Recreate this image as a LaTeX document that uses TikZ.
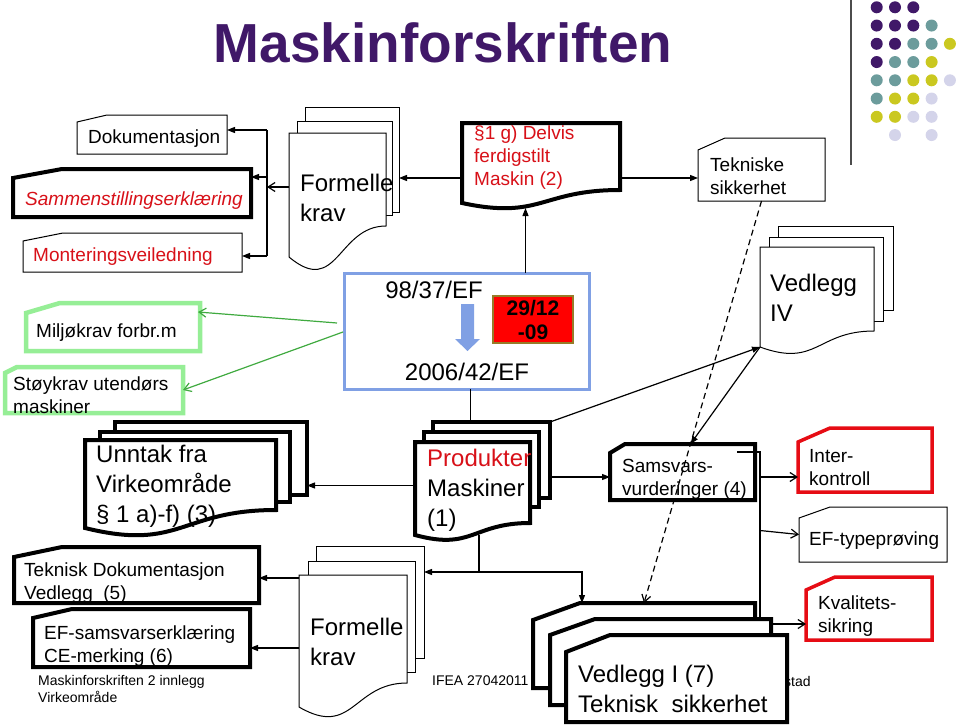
\documentclass[tikz,border=0pt]{standalone}
\usepackage{fontspec}
\setmainfont{Liberation Sans}
\usetikzlibrary{arrows.meta,calc}

\definecolor{titlepurple}{RGB}{64,24,104}
\definecolor{dotP}{RGB}{64,24,104}
\definecolor{dotT}{RGB}{108,156,156}
\definecolor{dotY}{RGB}{202,200,32}
\definecolor{dotL}{RGB}{212,212,234}
\definecolor{textred}{RGB}{216,16,24}
\definecolor{boxred}{RGB}{230,12,20}
\definecolor{lgreen}{RGB}{150,238,150}
\definecolor{linegreen}{RGB}{64,170,64}
\definecolor{dirblue}{RGB}{128,160,228}
\definecolor{dateborder}{RGB}{150,124,40}

\makeatletter
\newdimen\cardcx \newdimen\cardcy \newdimen\docrise
\newdimen\shxa \newdimen\shya \newdimen\shxb \newdimen\shyb
\newdimen\shxc \newdimen\shyc \newdimen\shyd
% card with the upper left corner cut off
\pgfdeclareshape{cutcard}{%
  \inheritsavedanchors[from=rectangle]%
  \inheritanchorborder[from=rectangle]%
  \inheritanchor[from=rectangle]{center}%
  \inheritanchor[from=rectangle]{north}%
  \inheritanchor[from=rectangle]{south}%
  \inheritanchor[from=rectangle]{east}%
  \inheritanchor[from=rectangle]{west}%
  \inheritanchor[from=rectangle]{north east}%
  \inheritanchor[from=rectangle]{north west}%
  \inheritanchor[from=rectangle]{south east}%
  \inheritanchor[from=rectangle]{south west}%
  \backgroundpath{%
    \southwest \shxa=\pgf@x \shya=\pgf@y
    \northeast \shxb=\pgf@x \shyb=\pgf@y
    \shxc=\shxa \advance\shxc by \cardcx
    \shyc=\shyb \advance\shyc by -\cardcy
    \pgfpathmoveto{\pgfqpoint{\shxa}{\shya}}%
    \pgfpathlineto{\pgfqpoint{\shxa}{\shyc}}%
    \pgfpathlineto{\pgfqpoint{\shxc}{\shyb}}%
    \pgfpathlineto{\pgfqpoint{\shxb}{\shyb}}%
    \pgfpathlineto{\pgfqpoint{\shxb}{\shya}}%
    \pgfpathclose
  }%
}
% document page with a wavy lower edge
\pgfdeclareshape{docpage}{%
  \inheritsavedanchors[from=rectangle]%
  \inheritanchorborder[from=rectangle]%
  \inheritanchor[from=rectangle]{center}%
  \inheritanchor[from=rectangle]{north}%
  \inheritanchor[from=rectangle]{south}%
  \inheritanchor[from=rectangle]{east}%
  \inheritanchor[from=rectangle]{west}%
  \inheritanchor[from=rectangle]{north east}%
  \inheritanchor[from=rectangle]{north west}%
  \inheritanchor[from=rectangle]{south east}%
  \inheritanchor[from=rectangle]{south west}%
  \backgroundpath{%
    \southwest \shxa=\pgf@x \shya=\pgf@y
    \northeast \shxb=\pgf@x \shyb=\pgf@y
    \shxc=.5\shxa \advance\shxc by .5\shxb
    \shyc=\shya \advance\shyc by \docrise
    \shyd=\shya \advance\shyd by -1.31\docrise
    \pgfpathmoveto{\pgfqpoint{\shxa}{\shya}}%
    \pgfpathlineto{\pgfqpoint{\shxa}{\shyb}}%
    \pgfpathlineto{\pgfqpoint{\shxb}{\shyb}}%
    \pgfpathlineto{\pgfqpoint{\shxb}{\shyc}}%
    \pgfpathcurveto{\pgfqpoint{\shxc}{\shyc}}{\pgfqpoint{\shxc}{\shyd}}{\pgfqpoint{\shxa}{\shya}}%
    \pgfpathclose
  }%
}
\makeatother

\tikzset{
  corner cut/.code 2 args={\pgfmathsetlength\cardcx{#1}\pgfmathsetlength\cardcy{#2}},
  wave rise/.code={\pgfmathsetlength\docrise{#1}},
  shapebase/.style={draw, fill=white, line width=1pt, inner sep=0pt, outer sep=0pt, anchor=north west},
  cardbox/.style={shapebase, shape=cutcard},
  docbox/.style={shapebase, shape=docpage},
  sheet/.style={shapebase, shape=rectangle},
  heavy/.style={line width=4pt},
  greenbox/.style={draw=lgreen, line width=4.5pt},
  redbox/.style={draw=boxred, line width=3.5pt},
  t14/.style={font=\fontsize{14}{17}\selectfont, align=left, inner sep=0pt, anchor=west},
  t19/.style={font=\fontsize{19}{23}\selectfont, align=left, inner sep=0pt, anchor=west},
  t24/.style={font=\fontsize{24}{30}\selectfont, align=left, inner sep=0pt, anchor=west},
  conn/.style={line width=1.2pt},
  arr/.style={conn, -{Triangle[length=8pt,width=6pt]}},
  openarr/.style={conn, -{Straight Barb[length=7pt,width=9pt]}},
  greenarr/.style={openarr, draw=linegreen},
  dashedarr/.style={openarr, dash pattern=on 6pt off 4pt}
}

\begin{document}
\begin{tikzpicture}[x=1pt,y=-1pt]
\useasboundingbox (0,0) rectangle (960,725);

% heading and corner dots
\node[inner sep=0pt, font=\fontsize{55}{60}\selectfont\bfseries, text=titlepurple] (title) at (443,43) {Maskinforskriften};
\draw[line width=1.5pt, black!70] (851,0) -- (851,165);
\foreach \i/\j/\col in {0/0/dotP,1/0/dotP,2/0/dotP,
    0/1/dotP,1/1/dotP,2/1/dotP,3/1/dotT,
    0/2/dotP,1/2/dotP,2/2/dotT,3/2/dotT,4/2/dotY,
    0/3/dotP,1/3/dotT,2/3/dotT,3/3/dotY,
    0/4/dotT,1/4/dotT,2/4/dotY,3/4/dotY,4/4/dotL,
    0/5/dotT,1/5/dotY,2/5/dotY,3/5/dotL,
    0/6/dotY,1/6/dotY,2/6/dotL,3/6/dotL,
    1/7/dotL,3/7/dotL}
  \fill[\col] ({876.7+18.3*\i},{7.3+18.25*\j}) circle (6pt);

% left column
\node[cardbox, corner cut={30}{7}, minimum width=150, minimum height=39] (dok) at (77,115) {};
\node[t19] (t-dok) at (88,139) {Dokumentasjon};
\node[cardbox, heavy, corner cut={49}{9}, minimum width=238, minimum height=48] (samm) at (13,169) {};
\node[t19, text=textred, font=\fontsize{19}{23}\selectfont\itshape] (t-samm) at (25,201) {Sammenstillingserklæring};
\node[cardbox, corner cut={40}{8}, minimum width=219, minimum height=39] (mont) at (23,233) {};
\node[t19, text=textred] (t-mont) at (33,257) {Monteringsveiledning};
\node[cardbox, greenbox, corner cut={34}{10}, minimum width=174, minimum height=48] (milj) at (26,303) {};
\node[t19] (t-milj) at (36,333) {Miljøkrav forbr.m};
\node[cardbox, greenbox, corner cut={12}{6}, minimum width=178, minimum height=46] (stoy) at (5,367) {};
\node[t19] (t-stoy) at (13,395) {Støykrav utendørs\\maskiner};

% formelle krav, top
\node[sheet, minimum width=94, minimum height=105] (fa3) at (305,107) {};
\node[sheet, minimum width=95, minimum height=94] (fa2) at (297,121) {};
\node[docbox, wave rise=31, minimum width=97, minimum height=124] (fa1) at (289,133) {};
\node[t24] (t-fa) at (300,198) {Formelle\\krav};

% delvis ferdigstilt maskin
\node[docbox, heavy, wave rise=13, minimum width=158, minimum height=80] (par) at (462,123) {};
\node[t19, text=textred] (t-par) at (474,158) {§1 g) Delvis\\ferdigstilt\\Maskin (2)};

\node[cardbox, corner cut={27}{12}, minimum width=127, minimum height=63] (tekn) at (698,138) {};
\node[t19] (t-tekn) at (710,176) {Tekniske\\sikkerhet};

% vedlegg IV
\node[sheet, minimum width=115, minimum height=84] (v3) at (778,226) {};
\node[sheet, minimum width=114, minimum height=84] (v2) at (769,237) {};
\node[docbox, wave rise=16, minimum width=114, minimum height=100] (v1) at (760,247) {};
\node[t24] (t-v) at (770,298) {Vedlegg\\IV};

% directive
\node[sheet, draw=dirblue, line width=3pt, minimum width=245, minimum height=116] (dir) at (344,273) {};
\node[t24, anchor=center] (t-98) at (434,290) {98/37/EF};
\node[t24, anchor=center] (t-2006) at (467,372) {2006/42/EF};
\fill[dirblue] (461,304) -- (474,304) -- (474,339) -- (480,339) -- (467.5,351) -- (455,339) -- (461,339) -- cycle;
\node[sheet, fill=red, draw=dateborder, line width=2pt, minimum width=80, minimum height=47, align=center,
  font=\fontsize{21}{24}\selectfont\bfseries] (date) at (493,296) {29/12\\-09};

% unntak
\node[sheet, heavy, minimum width=192, minimum height=73] (u3) at (115,422) {};
\node[sheet, heavy, minimum width=190, minimum height=70] (u2) at (100,432) {};
\node[docbox, heavy, wave rise=18, minimum width=191, minimum height=88] (u1) at (85,440) {};
\node[t24] (t-u) at (96,486) {Unntak fra\\Virkeområde\\§ 1 a)-f) (3)};

% produkter
\node[sheet, heavy, minimum width=117, minimum height=76] (p3) at (433,422) {};
\node[sheet, heavy, minimum width=115, minimum height=75] (p2) at (424,432) {};
\node[docbox, heavy, wave rise=12, minimum width=115, minimum height=93] (p1) at (415,442) {};
\node[t24] (t-p) at (427,490) {\textcolor{textred}{Produkter}\\Maskiner\\(1)};

% samsvarsvurdering
\node[cardbox, heavy, corner cut={15}{9}, minimum width=145, minimum height=56] (samsv) at (610,444) {};
\node[t19] (t-samsv) at (622,479) {Samsvars-\\vurderinger (4)};
\node[cardbox, redbox, corner cut={32}{14}, minimum width=134, minimum height=64] (inter) at (798,428) {};
\node[t19] (t-inter) at (809,468) {Inter-\\kontroll};
\node[cardbox, corner cut={31}{11}, minimum width=148, minimum height=55] (eftype) at (799,507) {};
\node[t19] (t-eftype) at (809,541) {EF-typeprøving};
\node[cardbox, redbox, corner cut={29}{13}, minimum width=126, minimum height=63] (kval) at (806,577) {};
\node[t19] (t-kval) at (818,616) {Kvalitets-\\sikring};

% lower left
\node[cardbox, heavy, corner cut={48}{10}, minimum width=245, minimum height=56] (tekdok) at (14,547) {};
\node[t19] (t-tekdok) at (24,583) {Teknisk Dokumentasjon\\Vedlegg\ \ (5)};
\node[cardbox, heavy, corner cut={39}{9}, minimum width=217, minimum height=58] (efsam) at (33,609) {};
\node[t19] (t-efsam) at (44,646) {EF-samsvarserklæring\\CE-merking (6)};

% formelle krav, bottom
\node[sheet, minimum width=108, minimum height=112] (fb3) at (316,546) {};
\node[sheet, minimum width=107, minimum height=111] (fb2) at (308,561) {};
\node[docbox, wave rise=24, minimum width=108, minimum height=132] (fb1) at (299,575) {};
\node[t24] (t-fb) at (310,642) {Formelle\\krav};

% footers
\node[t14] (foot) at (38,689) {Maskinforskriften 2 innlegg\\Virkeområde};
\node[t14] (ifea) at (432,681) {IFEA 27042011};
\node[t14] (stad) at (784,681) {stad};

% vedlegg I
\node[cardbox, heavy, corner cut={47}{17}, minimum width=222, minimum height=85] (vI1) at (533,603) {};
\node[cardbox, heavy, corner cut={45}{16}, minimum width=221, minimum height=86] (vI2) at (550,619) {};
\node[cardbox, heavy, corner cut={44}{17}, minimum width=221, minimum height=87] (vI3) at (566,635) {};
\node[t24] (t-vI3) at (578,689) {Vedlegg I (7)\\Teknisk\ \ sikkerhet};

% connectors
\coordinate (busT) at (267,130);
\coordinate (busM) at (267,177);
\coordinate (busA) at (267,187);
\coordinate (busB) at (267,256);
\draw[conn] (busT) -- (busB);
\draw[arr] (busT) -- (busT -| dok.east);
\draw[arr] (busM) -- (busM -| samm.east);
\draw[arr] (busB) -- (busB -| mont.east);
\draw[openarr] (busA -| fa1.west) -- (busA);

\coordinate (parW) at ($(par.west)+(0,15)$);
\coordinate (parE) at ($(par.east)+(0,15)$);
\coordinate (dirN) at ($(dir.north)+(59,0)$);
\draw[arr] (parW) -- (parW -| fa3.east);
\draw[arr] (parE) -- (parE -| tekn.west);
\draw[arr] (dirN) -- ($(dirN |- par.south)+(0,5)$);
\draw[dashedarr] (tekn.south) -- (vI1.north);
\draw[arr] (p3.north east) -- (v1.south west);
\draw[arr] (v1.south west) -- ($(samsv.north)+(8,0)$);
\draw[conn] ($(dir.south)+(4,0)$) -- ($(dir.south |- p3.north)+(4,0)$);

\draw[greenarr] ($(dir.west)+(-7,-8)$) -- ($(milj.east)+(-2,-15)$);
\draw[greenarr] ($(dir.west)+(-1,1)$) -- (stoy.east);

\coordinate (pW) at ($(p1.west)+(0,-3)$);
\coordinate (sW) at ($(samsv.west)+(0,5)$);
\draw[arr] (pW) -- (pW -| u3.east);
\draw[arr] (sW -| p3.east) -- (sW);

\coordinate (pj) at (479,572);
\draw[conn] (pj |- p1.south) -- (pj);
\draw[arr] (pj) -- (pj -| fb3.east);
\draw[arr] (pj) -| ($(vI1.north west)+(49,0)$);

\coordinate (fT) at ($(tekdok.east)+(0,3)$);
\coordinate (fE) at ($(efsam.east)+(0,10)$);
\draw[arr] (fT -| fb1.west) -- (fT);
\draw[arr] (fE -| fb1.west) -- (fE);

\coordinate (sbus) at (760,617);
\coordinate (iW) at ($(inter.west)+(0,17)$);
\coordinate (kW) at ($(vI2.north east)+(0,5)$);
\draw[conn] ($(samsv.north east)+(-18,8)$) -| (sbus);
\draw[openarr] (iW -| sbus) -- (iW);
\draw[openarr] ($(sbus |- eftype.west)+(0,-4)$) -- (eftype.west);
\draw[openarr] (kW) -- (kW -| kval.west);
\end{tikzpicture}
\end{document}
